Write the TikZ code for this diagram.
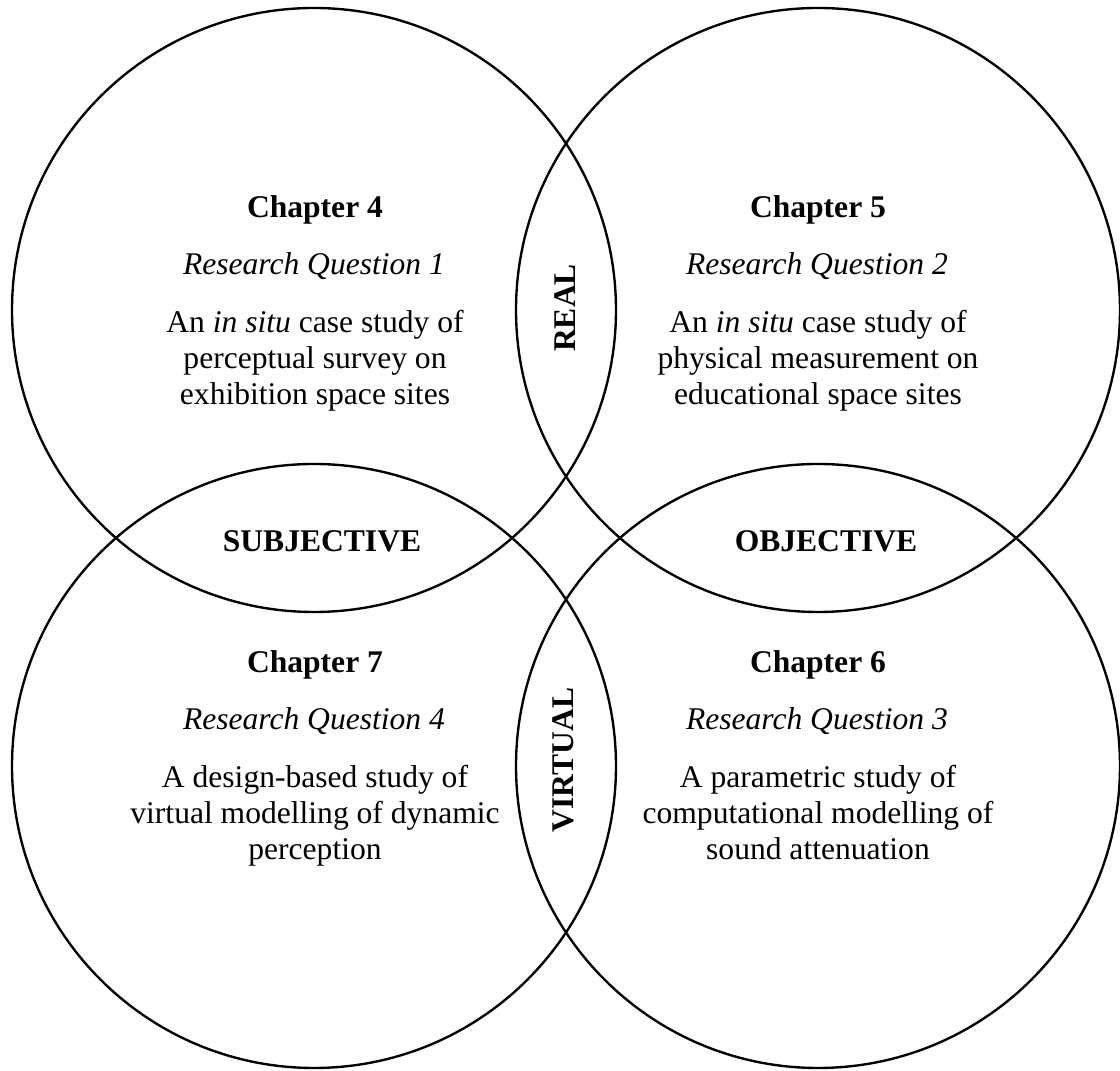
\documentclass[tikz,border=0pt]{standalone}
\usepackage{fontspec}
\setmainfont{Liberation Serif}
\begin{document}
\begin{tikzpicture}[x=0.38pt,y=-0.38pt,font=\fontsize{12}{13.7}\selectfont,line join=round,line cap=round,
	ring/.style={line width=0.9pt},
	chap/.style={anchor=base,inner sep=0pt,font=\fontsize{12}{13.7}\selectfont\bfseries},
	rq/.style={anchor=base,inner sep=0pt,font=\fontsize{12}{13.7}\selectfont\itshape},
	blurb/.style={anchor=base,inner sep=0pt,align=center},
	lens/.style={inner sep=0pt,font=\fontsize{12}{13.7}\selectfont\bfseries}]
	\def\rad{302}
	\useasboundingbox (0,0) rectangle (1120,1071);
	% circle centres
	\coordinate (ctl) at (314,310); \coordinate (ctr) at (818,310);
	\coordinate (cbl) at (314,766); \coordinate (cbr) at (818,766);
	\draw[ring] (ctl) circle (\rad) (ctr) circle (\rad) (cbl) circle (\rad) (cbr) circle (\rad);
	% chapters (blurb anchored on its last line)
	\node[chap] (ch4) at (315,218) {Chapter 4};
	\node[rq] (rq1) at (314,275) {Research Question 1};
	\node[blurb] (tx4) at (315,405) {An \textit{in situ} case study of\\perceptual survey on\\exhibition space sites};
	\node[chap] (ch5) at (818,218) {Chapter 5};
	\node[rq] (rq2) at (817,275) {Research Question 2};
	\node[blurb] (tx5) at (818,405) {An \textit{in situ} case study of\\physical measurement on\\educational space sites};
	\node[chap] (ch7) at (315,673) {Chapter 7};
	\node[rq] (rq4) at (314,730) {Research Question 4};
	\node[blurb] (tx7) at (315,860) {A design-based study of\\virtual modelling of dynamic\\perception};
	\node[chap] (ch6) at (818,673) {Chapter 6};
	\node[rq] (rq3) at (817,730) {Research Question 3};
	\node[blurb] (tx6) at (818,860) {A parametric study of\\computational modelling of\\sound attenuation};
	% overlaps
	\node[lens,rotate=90] (real) at (565,308) {REAL};
	\node[lens,rotate=90] (virt) at (563,760) {VIRTUAL};
	\node[lens] (subj) at (322,541) {SUBJECTIVE};
	\node[lens] (obj) at (826,541) {OBJECTIVE};
\end{tikzpicture}
\end{document}
